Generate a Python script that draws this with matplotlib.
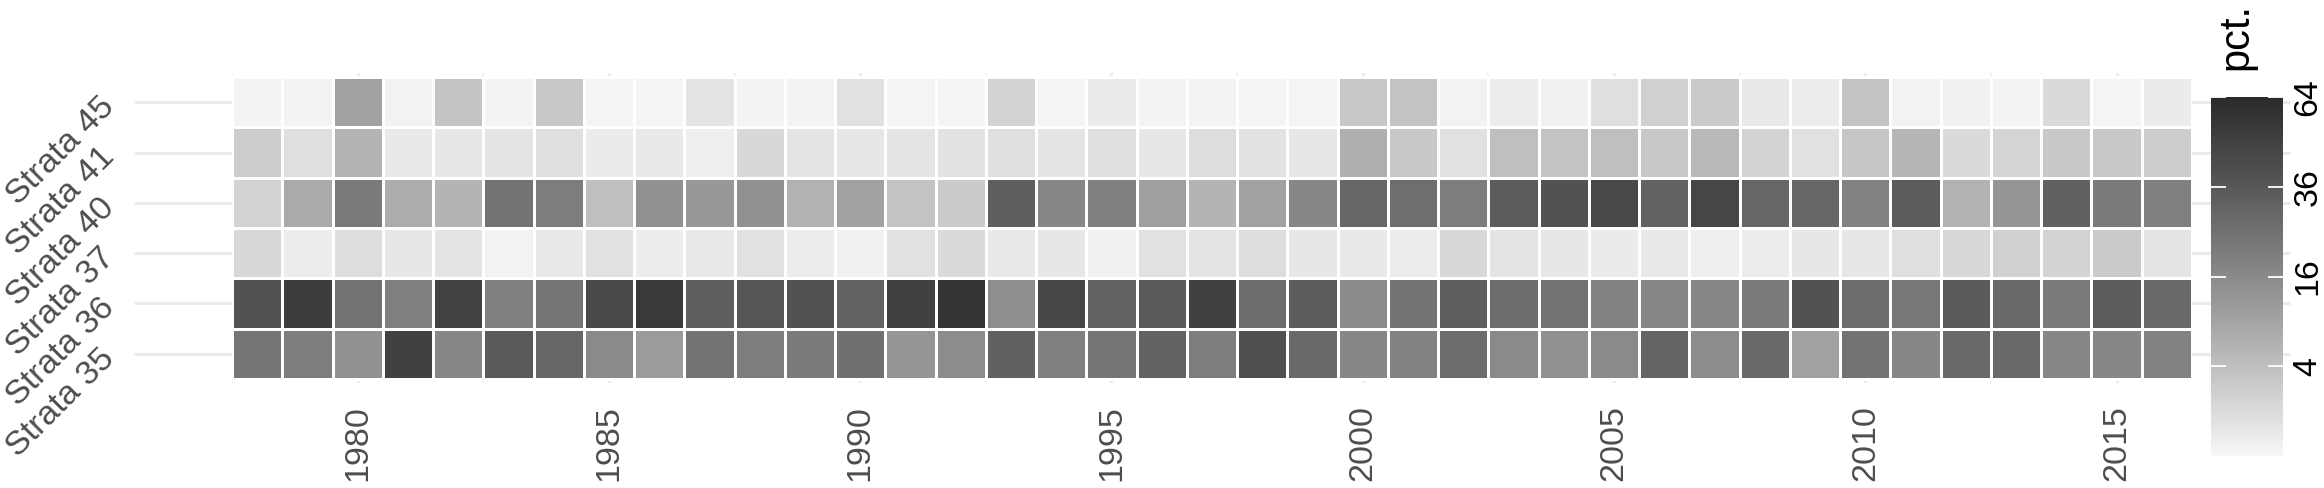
import numpy as np
import matplotlib
matplotlib.use("Agg")
import matplotlib.pyplot as plt
from matplotlib.colors import LinearSegmentedColormap, PowerNorm

plt.rcParams['font.family'] = ['Liberation Sans', 'DejaVu Sans']

years = list(range(1978, 2017))
strata = ["Strata 35", "Strata 36", "Strata 37", "Strata 40", "Strata 41", "Strata 45"]

# pct. by year, one list per stratum
strata_35 = [22.9, 20.2, 13.8, 48.9, 16.9, 35.1, 29.4, 15.9, 11.1, 24,
             20.2, 21.3, 25.2, 12.9, 15.3, 31.7, 19.2, 22.9, 31.2, 20.2,
             40.2, 28.1, 16.9, 18.5, 26.8, 15.9, 13.8, 15.9, 30.3, 15.3,
             28.1, 9.7, 24, 16.9, 28.1, 28.1, 16.9, 16.9, 18.5]
strata_36 = [39.2, 51.4, 24, 19.2, 48.3, 19.2, 22.9, 44.1, 54, 32.6,
             37.6, 39.2, 31.2, 48.9, 57.5, 14.7, 45.9, 31.2, 35.1, 48.9,
             26.8, 34, 15.9, 24, 32.6, 26.8, 24, 18.5, 16.9, 16.9,
             21.3, 39.2, 26.8, 22.1, 35.1, 28.1, 21.3, 34, 28.1]
strata_37 = [1.26, 0.13, 0.87, 0.35, 0.45, 0.04, 0.28, 0.6, 0.13, 0.28,
             0.6, 0.13, 0.06, 0.6, 1.05, 0.28, 0.35, 0.06, 0.6, 0.45,
             0.87, 0.35, 0.28, 0.13, 1.26, 0.45, 0.35, 0.17, 0.28, 0.1,
             0.15, 0.35, 0.35, 0.75, 1.26, 1.9, 1.7, 2.5, 0.45]
strata_40 = [1.7, 7.7, 21.3, 7.3, 5.8, 24, 20.2, 4.1, 13.8, 11.9,
             13.8, 6.1, 9.7, 3.4, 2.5, 32.6, 16.9, 19.2, 10.2, 5.8,
             9.7, 16.9, 29.4, 26, 20.2, 34, 39.2, 44.7, 31.2, 45.9,
             29.4, 29.4, 18.5, 34, 6.1, 12.9, 31.7, 21.3, 19.2]
strata_41 = [2.2, 0.75, 5.8, 0.28, 0.35, 0.45, 0.75, 0.17, 0.28, 0.1,
             1.2, 0.45, 0.35, 0.45, 0.55, 0.75, 0.45, 0.75, 0.35, 0.87,
             0.55, 0.35, 6.7, 2.8, 0.6, 4.1, 3.4, 4.1, 2.8, 4.9,
             1.7, 0.6, 3.0, 5.4, 1.05, 1.5, 2.8, 2.8, 2.2]
strata_45 = [0.02, 0.02, 9.7, 0.03, 3.3, 0.02, 2.8, 0.01, 0.01, 0.45,
             0.02, 0.02, 0.6, 0.01, 0.01, 1.7, 0.01, 0.17, 0.02, 0.02,
             0.01, 0.01, 2.8, 3.4, 0.04, 0.15, 0.06, 0.75, 1.9, 2.5,
             0.28, 0.15, 3.4, 0.04, 0.06, 0.02, 1.0, 0.01, 0.17]

cbar_ticks = [4, 16, 36, 64]


def lab_grey(L):
    # grey with lightness L* (for a gradient that is even in lightness)
    f = (L + 16) / 116
    Y = f ** 3 if f > 6 / 29 else 3 * (6 / 29) ** 2 * (f - 4 / 29)
    c = 12.92 * Y if Y <= 0.0031308 else 1.055 * Y ** (1 / 2.4) - 0.055
    return (c, c, c)


cmap = LinearSegmentedColormap.from_list(
    "greys_lab", [lab_grey(L) for L in np.linspace(97.2, 17.5, 64)])
norm = PowerNorm(gamma=0.5, vmin=0, vmax=64)

data = np.array([strata_35, strata_36, strata_37, strata_40, strata_41, strata_45])

W, H = 2324, 488
fig = plt.figure(figsize=(W / 100, H / 100), dpi=100)
ax = fig.add_axes([232 / W, 1 - 383 / H, 1960 / W, 310 / H])

x_edges = np.arange(years[0] - 0.5, years[-1] + 1.0, 1.0)
y_edges = np.arange(-0.5, len(strata) + 0.5, 1.0)
mesh = ax.pcolormesh(x_edges, y_edges, data, cmap=cmap, norm=norm,
                     edgecolors="white", linewidth=0.8, zorder=2)

ax.set_xlim(1977.5, 2016.5)
ax.set_ylim(-0.58, 5.58)
for s in ax.spines.values():
    s.set_visible(False)

ax.set_xticks(range(1980, 2016, 5))
ax.set_xticks(np.arange(1977.5, 2016, 5), minor=True)
ax.grid(which="major", axis="x", color="#ebebeb", lw=2.2, zorder=0)
ax.grid(which="minor", axis="x", color="#ebebeb", lw=1.1, zorder=0)
ax.set_axisbelow(True)

# row grid lines run past the tiles on both sides
ax.hlines(range(len(strata)), (134 - 232) / 1960, (2290 - 232) / 1960,
          transform=ax.get_yaxis_transform(), color="#ebebeb", lw=2.2,
          clip_on=False, zorder=0)

ax.set_yticks(range(len(strata)))
ax.set_yticklabels(strata)
ax.tick_params(which="both", length=0)
ax.tick_params(axis="x", labelsize=24.5, labelcolor="#4d4d4d", pad=16,
               labelrotation=90)
ax.tick_params(axis="y", labelsize=24.5, labelcolor="#4d4d4d", pad=88)
for lab in ax.get_yticklabels():
    lab.set_rotation(45)
    lab.set_rotation_mode("anchor")
    lab.set_ha("right")
    lab.set_va("center")

cax = fig.add_axes([2211 / W, 1 - 456 / H, 72 / W, 359 / H])
cb = fig.colorbar(mesh, cax=cax, ticks=cbar_ticks)
cb.outline.set_visible(False)
cb.minorticks_off()
cax.tick_params(direction="in", length=11, width=1.3, color="white",
                left=True, right=True, labelleft=False, labelright=True,
                labelsize=24.5, labelcolor="black", pad=7, labelrotation=90)
for lab in cax.get_yticklabels():
    lab.set_va("center")

fig.text(2236 / W, 1 - 70 / H, "pct.", rotation=90, ha="center", va="bottom",
         fontsize=30, color="black")

fig.savefig("out.png", dpi=100)
